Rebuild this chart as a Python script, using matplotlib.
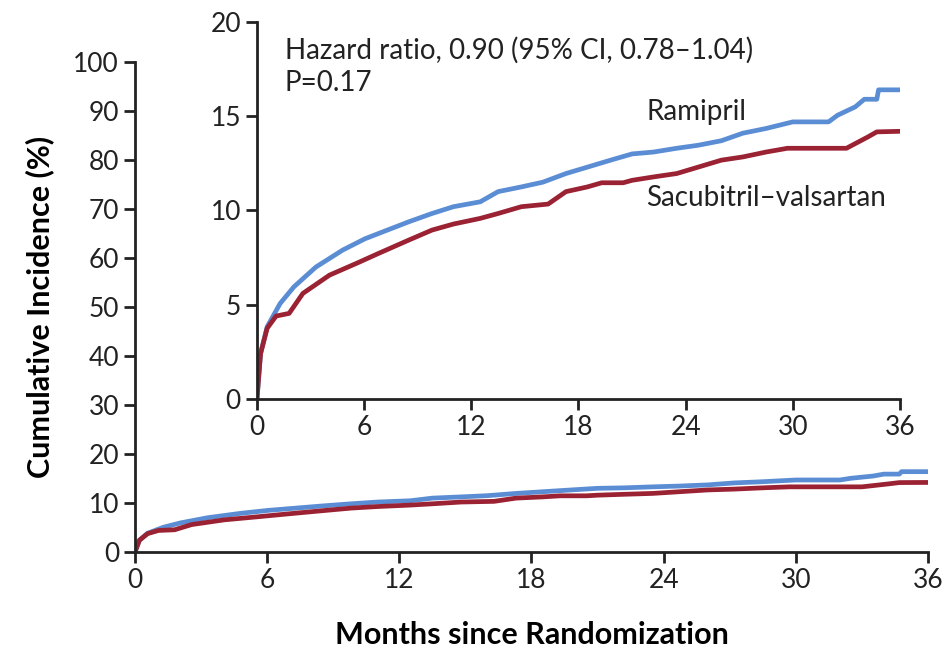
import numpy as np
import matplotlib
matplotlib.use("Agg")
import matplotlib.pyplot as plt

# months and cumulative incidence (%)
ram_t = [0, 0.2, 0.57, 1.3, 2.07, 3.3, 4.8, 6.05, 7.3, 8.5, 9.8, 11.0, 12.5, 13.5, 14.8, 16.0,
         17.3, 18.5, 19.8, 21.0, 22.2, 23.5, 24.7, 26.0, 27.2, 28.5, 30.0, 32.0, 32.5,
         33.5, 34.0, 34.7, 34.8, 36]
ram_y = [0, 2.4, 3.83, 5.07, 5.95, 7.0, 7.9, 8.5, 8.96, 9.4, 9.84, 10.2, 10.46, 11.0, 11.25, 11.5,
         11.96, 12.3, 12.67, 13.0, 13.1, 13.3, 13.46, 13.7, 14.1, 14.35, 14.7, 14.7, 15.05,
         15.5, 15.9, 15.9, 16.4, 16.4]
sac_t = [0, 0.2, 0.57, 1.07, 1.8, 2.57, 4.06, 5.56, 6.8, 8.5, 9.8, 11.0, 12.5, 13.5, 14.8, 16.3,
         17.3, 18.5, 19.3, 20.5, 21.0, 22.2, 23.5, 24.7, 26.0, 27.2, 28.5, 29.7, 33.0,
         33.5, 34.2, 34.7, 36]
sac_y = [0, 2.4, 3.75, 4.4, 4.54, 5.6, 6.57, 7.19, 7.72, 8.43, 8.96, 9.28, 9.58, 9.84, 10.2, 10.34,
         11.0, 11.25, 11.47, 11.47, 11.6, 11.78, 11.96, 12.3, 12.67, 12.84, 13.1, 13.3, 13.3,
         13.55, 13.9, 14.17, 14.2]

blue = "#5b8dd4"
red = "#9a2233"
fam = ["Lato", "DejaVu Sans"]
plt.rcParams["font.family"] = fam

fig = plt.figure(figsize=(9.44, 6.56), dpi=100)


def style(ax, fs):
    for s in ["top", "right"]:
        ax.spines[s].set_visible(False)
    for s in ["left", "bottom"]:
        ax.spines[s].set_linewidth(2)
        ax.spines[s].set_color("#222222")
    ax.tick_params(width=2, length=8, labelsize=fs, color="#222222", labelcolor="#222222")


ax = fig.add_axes([0.143, 0.1585, 0.840, 0.747])
ax.plot(ram_t, ram_y, color=blue, lw=3.4)
ax.plot(sac_t, sac_y, color=red, lw=3.4)
ax.set_xlim(0, 36)
ax.set_ylim(0, 100)
ax.set_xticks(np.arange(0, 37, 6))
ax.set_yticks(np.arange(0, 101, 10))
style(ax, 19)
ax.set_xlabel("Months since Randomization", fontsize=22, fontweight="bold", labelpad=20)
ax.set_ylabel("Cumulative Incidence (%)", fontsize=22, fontweight="bold", labelpad=14)

ins = fig.add_axes([0.2722, 0.3918, 0.6812, 0.5747])
ins.plot(ram_t, ram_y, color=blue, lw=3.4)
ins.plot(sac_t, sac_y, color=red, lw=3.4)
ins.set_xlim(0, 36)
ins.set_ylim(0, 20)
ins.set_xticks(np.arange(0, 37, 6))
ins.set_yticks(np.arange(0, 21, 5))
style(ins, 19)
ins.text(1.55, 17.65, "Hazard ratio, 0.90 (95% CI, 0.78\u20131.04)\nP=0.17", fontsize=20,
         va="center", ha="left", linespacing=1.3, color="#222222")
ins.text(21.8, 15.2, "Ramipril", fontsize=20, ha="left", va="center", color="#222222")
ins.text(21.8, 10.65, "Sacubitril\u2013valsartan", fontsize=20, ha="left", va="center", color="#222222")

fig.savefig("out.png", dpi=100)
